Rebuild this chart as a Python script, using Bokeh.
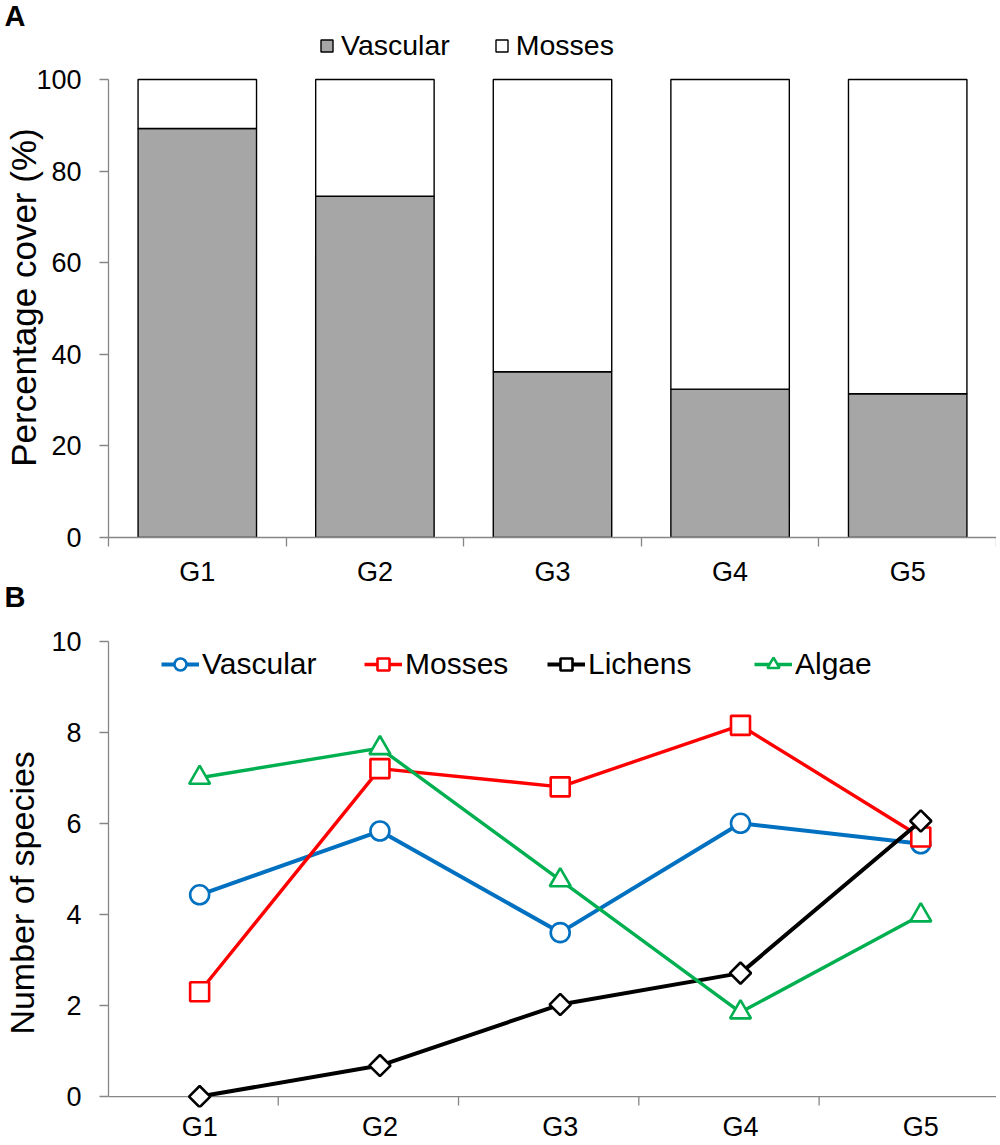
import math
from bokeh.plotting import figure
from bokeh.layouts import column
from bokeh.models import ColumnDataSource, FixedTicker, Legend, LegendItem, Title
from bokeh.embed import file_html
from bokeh.resources import INLINE

# ---------------- data ----------------
groups = ["G1", "G2", "G3", "G4", "G5"]
vascular_cover = [89.3, 74.5, 36.2, 32.4, 31.4]
mosses_cover = [10.7, 25.5, 63.8, 67.6, 68.6]
cover_ticks = [0, 20, 40, 60, 80, 100]

vascular_sp = [4.43, 5.83, 3.60, 6.00, 5.55]
mosses_sp = [2.30, 7.20, 6.80, 8.15, 5.70]
lichens_sp = [0.00, 0.68, 2.02, 2.71, 6.05]
algae_sp = [7.00, 7.65, 4.75, 1.85, 3.98]
species_ticks = [0, 2, 4, 6, 8, 10]

FONT = "Liberation Sans"
AXIS_GRAY = "#868686"
BAR_GRAY = "#A6A6A6"
LEFT = 104         # common left border (frames are aligned in a column)
FW = 892           # frame width
xs = list(range(1, len(groups) + 1))
labels_map = {x: g for x, g in zip(xs, groups)}


def style_title(t, standoff):
    t.align = "left"
    t.offset = -LEFT
    t.vertical_align = "top"
    t.standoff = standoff
    t.text_font = FONT
    t.text_font_size = "29px"
    t.text_font_style = "bold"
    t.text_color = "black"


def style_axis_common(ax):
    ax.major_label_text_font = FONT
    ax.major_label_text_font_size = "27px"
    ax.major_label_text_color = "black"
    ax.minor_tick_line_color = None


# ---------------- panel A ----------------
TOP_A, BOT_A, FHA = 28, 77, 509
p1 = figure(width=LEFT + FW, height=TOP_A + FHA + BOT_A,
            x_range=(0.5, 0.5 + FW / 178.4), y_range=(0, FHA / 4.58),
            output_backend="svg", toolbar_location=None, title="A",
            min_border_left=LEFT, min_border_right=0,
            min_border_top=TOP_A, min_border_bottom=BOT_A)
p1.outline_line_color = None
p1.xgrid.visible = False
p1.ygrid.visible = False
style_title(p1.title, -10)

src_a = ColumnDataSource(dict(x=xs, Vascular=vascular_cover, Mosses=mosses_cover))
bars = p1.vbar_stack(["Vascular", "Mosses"], x="x", width=0.667, source=src_a,
                     fill_color=[BAR_GRAY, "#FFFFFF"], line_color="black", line_width=1.4)

xa = p1.xaxis[0]
style_axis_common(xa)
xa.ticker = FixedTicker(ticks=xs, minor_ticks=[x - 0.5 for x in xs] + [xs[-1] + 0.5])
xa.major_label_overrides = labels_map
xa.major_tick_line_color = None
xa.major_tick_out = 9
xa.minor_tick_out = 9
xa.minor_tick_in = 0
xa.minor_tick_line_color = AXIS_GRAY
xa.minor_tick_line_width = 1.3
xa.axis_line_color = AXIS_GRAY
xa.axis_line_width = 1.3
xa.major_label_standoff = 10
xa.axis_label_standoff = 0

ya = p1.yaxis[0]
style_axis_common(ya)
ya.ticker = FixedTicker(ticks=cover_ticks)
ya.bounds = (0, 100)
ya.major_tick_out = 9
ya.major_tick_in = 0
ya.major_tick_line_color = AXIS_GRAY
ya.major_tick_line_width = 1.3
ya.axis_line_color = AXIS_GRAY
ya.axis_line_width = 1.3
ya.major_label_standoff = 18
ya.axis_label = "Percentage cover (%)" + "\u00a0" * 3
ya.axis_label_text_font = FONT
ya.axis_label_text_font_size = "35px"
ya.axis_label_text_font_style = "normal"
ya.axis_label_text_color = "black"
ya.axis_label_standoff = -10

p1.add_layout(Legend(items=[LegendItem(label="Vascular", renderers=[bars[0]]),
                            LegendItem(label="Mosses", renderers=[bars[1]])],
                     location=(211, 475), orientation="horizontal",
                     glyph_width=15, glyph_height=15, label_standoff=7, spacing=44,
                     padding=0, margin=0, border_line_color=None, background_fill_alpha=0,
                     label_text_font=FONT, label_text_font_size="28.5px",
                     label_text_color="black"))

# panel letter B sits under panel A's category axis
tB = Title(text="B")
style_title(tB, -17)
p1.add_layout(tB, "below")

# ---------------- panel B ----------------
TOP_B, BOT_B, FHB = 26, 38, 467
PX_X, PX_Y = 181.1, 45.55
y0 = -0.24
x_start = 0.5 - 1 / PX_X
x_end = x_start + FW / PX_X
p2 = figure(width=LEFT + FW, height=TOP_B + FHB + BOT_B,
            x_range=(x_start, x_end), y_range=(y0, y0 + FHB / PX_Y),
            output_backend="svg", toolbar_location=None,
            min_border_left=LEFT, min_border_right=0,
            min_border_top=TOP_B, min_border_bottom=BOT_B)
p2.outline_line_color = None
p2.xgrid.visible = False
p2.ygrid.visible = False

# category axis line and its boundary ticks, drawn through the data scales
bounds = [x + 0.436 for x in xs]
p2.segment(x0=[x_start], y0=[0], x1=[x_end], y1=[0], line_color=AXIS_GRAY, line_width=1.3)
p2.segment(x0=bounds, y0=[0] * len(bounds), x1=bounds, y1=[-9 / PX_Y] * len(bounds),
           line_color=AXIS_GRAY, line_width=1.3)

series = [
    ("Vascular", vascular_sp, "#0070C0", "circle", 19, 0.0, 4.0),
    ("Mosses", mosses_sp, "#FF0000", "square", 19, 0.0, 3.4),
    ("Lichens", lichens_sp, "#000000", "square", 15, math.pi / 4, 4.0),
    ("Algae", algae_sp, "#00B050", "triangle", 21, 0.0, 3.4),
]
legend_x = [53, 256, 439, 646]
for (name, vals, col, mk, sz, ang, lw), lx in zip(series, legend_x):
    src = ColumnDataSource(dict(x=xs, y=vals))
    lr = p2.line("x", "y", source=src, line_color=col, line_width=lw)
    sr = p2.scatter("x", "y", source=src, marker=mk, size=sz, angle=ang, fill_color="white",
                    line_color=col, line_width=2.6)
    p2.add_layout(Legend(items=[LegendItem(label=name, renderers=[lr, sr])],
                         location=(lx, 426), orientation="horizontal",
                         glyph_width=38, glyph_height=30, label_standoff=3,
                         padding=0, margin=0, border_line_color=None, background_fill_alpha=0,
                         label_text_font=FONT, label_text_font_size="30px",
                         label_text_color="black"))

xb = p2.xaxis[0]
style_axis_common(xb)
xb.ticker = FixedTicker(ticks=xs)
xb.major_label_overrides = labels_map
xb.major_tick_line_color = None
xb.major_tick_out = 0
xb.major_tick_in = 0
xb.axis_line_color = None
xb.major_label_standoff = 4
xb.axis_label_standoff = 0

yb = p2.yaxis[0]
style_axis_common(yb)
yb.ticker = FixedTicker(ticks=species_ticks)
yb.bounds = (0, 10)
yb.major_tick_out = 9
yb.major_tick_in = 0
yb.major_tick_line_color = AXIS_GRAY
yb.major_tick_line_width = 1.3
yb.axis_line_color = AXIS_GRAY
yb.axis_line_width = 1.3
yb.major_label_standoff = 18
yb.axis_label = "Number of species" + "\u00a0" * 4
yb.axis_label_text_font = FONT
yb.axis_label_text_font_size = "34px"
yb.axis_label_text_font_style = "normal"
yb.axis_label_text_color = "black"
yb.axis_label_standoff = 7

layout = column(p1, p2, spacing=0)
open("out.html", "w").write(file_html(layout, INLINE))
